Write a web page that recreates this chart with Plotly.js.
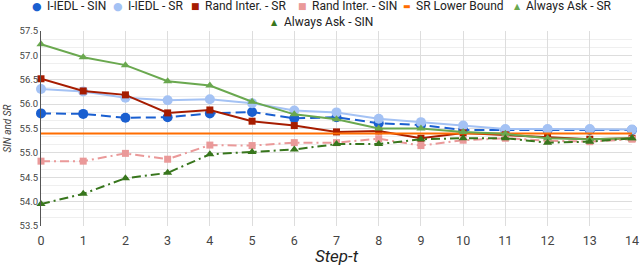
<!DOCTYPE html>
<html><head><meta charset="utf-8">
<script src="https://cdn.plot.ly/plotly-3.0.1.min.js"></script>
<style>html,body{margin:0;padding:0;background:#fff}#chart{width:640px;height:266px}</style>
</head><body><div id="chart"></div>
<script>
const steps = [0,1,2,3,4,5,6,7,8,9,10,11,12,13,14];
const iiedlSIN   = [55.81,55.80,55.72,55.73,55.81,55.84,55.71,55.73,55.61,55.57,55.47,55.47,55.47,55.47,55.47];
const iiedlSR    = [56.31,56.26,56.13,56.08,56.10,56.02,55.87,55.83,55.70,55.63,55.56,55.49,55.49,55.49,55.48];
const randSR     = [56.52,56.27,56.19,55.82,55.88,55.65,55.56,55.43,55.45,55.30,55.41,55.37,55.32,55.28,55.30];
const randSIN    = [54.83,54.83,54.99,54.87,55.16,55.15,55.21,55.21,55.29,55.15,55.26,55.30,55.25,55.23,55.28];
const lowerBound = [55.40,55.40,55.40,55.40,55.40,55.40,55.40,55.40,55.40,55.40,55.40,55.40,55.40,55.40,55.40];
const alwaysSR   = [57.23,56.96,56.80,56.47,56.38,56.05,55.79,55.69,55.50,55.50,55.43,55.39,55.30,55.28,55.30];
const alwaysSIN  = [53.95,54.16,54.48,54.59,54.97,55.02,55.07,55.18,55.18,55.28,55.30,55.30,55.21,55.23,55.30];
const yTicks = [53.5,54.0,54.5,55.0,55.5,56.0,56.5,57.0,57.5];

const M = {l: 41, r: 8, t: 31, b: 40}, W = 640, H = 266;
const PW = W - M.l - M.r, PH = H - M.t - M.b;

function tr(name, y, color, dash, symbol, size){
  return {x: steps, y: y, name: name, type: 'scatter', mode: symbol ? 'lines+markers' : 'lines',
    line: {color: color, width: 2, dash: dash},
    marker: {symbol: symbol || 'circle', size: size || 6, color: color},
    cliponaxis: false, showlegend: false};
}
const data = [
  tr('I-IEDL - SIN', iiedlSIN, '#1a5fd0', '10px,5px', 'circle', 10),
  tr('I-IEDL - SR', iiedlSR, '#a4c2f4', 'solid', 'circle', 10),
  tr('Rand Inter. - SR', randSR, '#a61c00', 'solid', 'square', 7),
  tr('Rand Inter. - SIN', randSIN, '#ea9999', '9px,4px,2px,4px', 'square', 7),
  tr('SR Lower Bound', lowerBound, '#ff6d01', 'solid', null, 0),
  tr('Always Ask - SR', alwaysSR, '#6aa84f', 'solid', 'triangle-up', 8),
  tr('Always Ask - SIN', alwaysSIN, '#38761d', '9px,4px,2px,4px', 'triangle-up', 8)
];

// legend layout (pixel positions of symbol and text start, and row centre)
const legendPos = [
  {sx: 37, tx: 45, y: 6}, {sx: 118, tx: 126, y: 6}, {sx: 195, tx: 203, y: 6},
  {sx: 302, tx: 310, y: 6}, {sx: 407, tx: 414, y: 6}, {sx: 517, tx: 524, y: 6},
  {sx: 274, tx: 282, y: 22.5}
];
const glyph = {'circle': ['\u25CF', 11], 'square': ['\u25A0', 9], 'triangle-up': ['\u25B2', 8]};
const annotations = [];
data.forEach((t, i) => {
  const p = legendPos[i];
  const py = (H - M.b - p.y) / PH;
  const g = t.mode === 'lines' ? ['\u25AC', 8] : glyph[t.marker.symbol];
  annotations.push({xref: 'paper', yref: 'paper', x: (p.sx - M.l) / PW, y: py, xanchor: 'center', yanchor: 'middle',
    text: g[0], showarrow: false, font: {family: 'DejaVu Sans', size: g[1], color: t.line.color}});
  annotations.push({xref: 'paper', yref: 'paper', x: (p.tx - M.l) / PW, y: py, xanchor: 'left', yanchor: 'middle',
    text: t.name, showarrow: false, font: {family: 'Roboto', size: 12, color: '#222'}});
});

const layout = {
  width: W, height: H, margin: M,
  paper_bgcolor: '#fff', plot_bgcolor: '#fff',
  font: {family: 'Roboto, Arial, sans-serif', color: '#444'},
  showlegend: false,
  annotations: annotations,
  xaxis: {range: [0, 14], tickmode: 'array', tickvals: steps, ticktext: steps.map(String),
    showgrid: true, gridcolor: '#dddddd', gridwidth: 1, zeroline: false, showline: false,
    tickfont: {size: 12.5, color: '#444'}, ticks: '', ticklabelstandoff: 5,
    title: {text: '<i>Step-t</i>', font: {size: 17, color: '#222'}, standoff: 8}},
  yaxis: {range: [53.5, 57.5], tickmode: 'array', tickvals: yTicks, ticktext: yTicks.map(v => v.toFixed(1)),
    showgrid: true, gridcolor: '#dddddd', gridwidth: 1, zeroline: false,
    showline: true, linecolor: '#555', linewidth: 1,
    minor: {dtick: 0.5/3, tick0: 53.5, showgrid: true, gridcolor: '#efefef', gridwidth: 1},
    tickfont: {size: 9.5, color: '#444'}, ticks: '',
    title: {text: '<i>SIN and SR</i>', font: {size: 10, color: '#444'}, standoff: 6}}
};
Plotly.newPlot('chart', data, layout, {displayModeBar: false, staticPlot: true});
</script></body></html>
